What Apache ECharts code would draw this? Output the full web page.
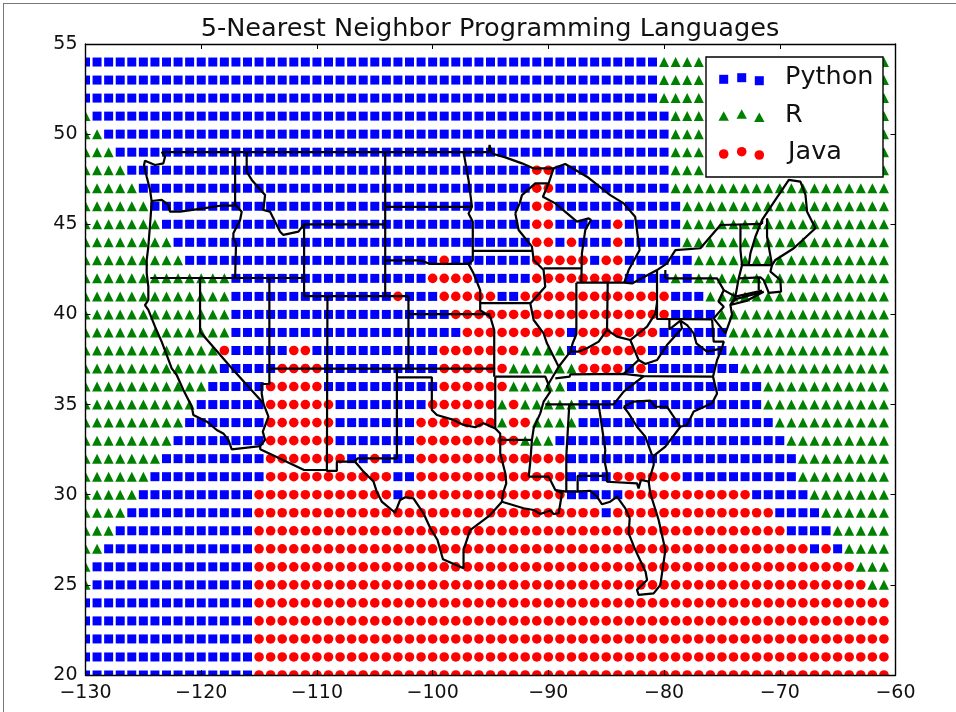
<!DOCTYPE html>
<html>
<head>
<meta charset="utf-8">
<style>
html,body{margin:0;padding:0;background:#fff;width:956px;height:712px;overflow:hidden}
#frame{position:absolute;left:3px;top:3px;right:0;bottom:0;border-left:1px solid #777;border-top:1px solid #777}
#chart{position:absolute;left:0;top:0;width:956px;height:712px}
</style>
<script src="https://cdn.jsdelivr.net/npm/echarts@6/dist/echarts.min.js"></script>
</head>
<body>
<div id="frame"></div>
<div id="chart"></div>
<script>
const titleText = '5-Nearest Neighbor Programming Languages';
const languages = ['Python', 'R', 'Java'];
const firstLongitude = -130;
const xTicks = [-130, -120, -110, -100, -90, -80, -70, -60];
const yTicks = [20, 25, 30, 35, 40, 45, 50, 55];

// Predicted language on the 1-degree grid: runs from longitude -130 eastward (P/R/J + run length)
const row54 = 'P50 R20';
const row53 = 'P50 R20';
const row52 = 'P50 R20';
const row51 = 'R1 P50 R19';
const row50 = 'R2 P49 R19';
const row49 = 'R3 P48 R19';
const row48 = 'R4 P35 J2 P10 R19';
const row47 = 'R5 P34 J2 P10 R19';
const row46 = 'R6 P33 J2 P11 R18';
const row45 = 'R7 P32 J2 P5 J1 P5 R18';
const row44 = 'R8 P31 J2 P1 J1 P3 J1 P5 R18';
const row43 = 'R9 P22 J1 P7 J5 P1 J2 P6 R17';
const row42 = 'R13 P17 J4 P5 J8 P4 R1 P1 R17';
const row41 = 'R13 P14 J1 P3 J5 P2 J13 P3 R16';
const row40 = 'R13 P19 J19 P4 R15';
const row39 = 'R13 P20 J9 P1 J7 P6 R14';
const row38 = 'R12 J1 P5 J2 P11 J7 R4 P1 J6 P7 R14';
const row37 = 'R12 P5 J4 P10 J6 R6 J4 P1 J1 P8 R13';
const row36 = 'R11 P5 J5 P10 J6 R5 P17 R11';
const row35 = 'R10 P6 J6 P8 J6 R1 J1 R5 P16 R11';
const row34 = 'R9 P7 J6 P7 J7 R1 J2 R4 P17 R10';
const row33 = 'R8 P8 J6 P7 J9 R3 P20 R9';
const row32 = 'R7 P9 J7 P2 J1 P3 J13 P20 R8';
const row31 = 'R6 P10 J11 P2 J13 P4 J6 P10 R8';
const row30 = 'R5 P10 J12 P1 J14 P5 J11 P5 R7';
const row29 = 'R4 P11 J30 P1 J14 P4 R6';
const row28 = 'R3 P12 J46 P4 R5';
const row27 = 'R2 P13 J48 P1 J1 P1 R4';
const row26 = 'R1 P14 J52 R3';
const row25 = 'R1 P14 J53 R2';
const row24 = 'P15 J55';
const row23 = 'P15 J55';
const row22 = 'P15 J55';
const row21 = 'P15 J55';
const row20 = 'P15 J55';
const gridRows = {54:row54,53:row53,52:row52,51:row51,50:row50,49:row49,48:row48,47:row47,46:row46,45:row45,44:row44,43:row43,42:row42,41:row41,40:row40,39:row39,38:row38,37:row37,36:row36,35:row35,34:row34,33:row33,32:row32,31:row31,30:row30,29:row29,28:row28,27:row27,26:row26,25:row25,24:row24,23:row23,22:row22,21:row21,20:row20};

// State borders as [longitude, latitude] polylines
const pacificCoast = [[-123.41,49.01],[-123.13,48.75],[-123.27,48.38],[-123.99,48.29],[-124.86,48.53],[-124.94,48.29],[-124.71,47.64],[-124.42,46.9],[-124.28,46.26],[-124.37,45.42],[-124.57,43.76],[-124.71,43.02],[-124.71,42.28],[-124.57,41.54],[-124.57,40.8],[-124.86,40.52],[-124.57,40.25],[-123.99,39.32],[-123.42,38.49],[-122.93,37.66],[-122.55,37.01],[-122.12,36.64],[-121.54,35.81],[-120.82,34.89],[-120.68,34.42],[-119.5,34.05],[-118.66,33.59],[-118.09,33.4],[-117.65,33.04],[-117.36,32.52],[-114.9,32.7]];
const canadaLine = [[-123.41,49.0],[-95.15,49.0],[-95.08,49.4],[-94.88,48.93],[-93.72,48.71],[-92.28,48.38],[-91.27,48.1],[-89.55,48.1],[-88.54,48.34],[-86.66,47.64],[-84.65,46.62],[-83.49,46.16],[-82.5,45.42],[-82.11,43.57],[-83.06,42.46],[-83.44,41.76],[-82.77,41.72],[-80.61,42.46],[-79.75,42.83],[-79.02,43.57],[-76.86,43.67],[-75.13,44.96],[-71.53,45.02]];
const maineOutline = [[-71.53,45.02],[-71.53,45.24],[-70.38,46.35],[-69.22,47.46],[-68.22,47.37],[-67.78,46.63],[-67.64,45.7],[-66.92,44.78],[-68.79,43.67],[-70.38,43.02],[-70.67,42.74]];
const washingtonOregon = [[-124.28,46.29],[-123.41,46.35],[-122.84,46.07],[-122.7,45.7],[-121.83,45.7],[-119.81,45.88],[-118.37,46.03],[-116.99,46.03]];
const idahoWest = [[-117.07,49.0],[-117.07,46.1],[-116.5,45.7],[-116.64,45.24],[-117.22,44.5],[-117.22,44.2],[-116.99,43.94],[-117.07,42.02]];
const idahoMontana = [[-116.07,49.0],[-116.07,47.92],[-115.63,47.46],[-114.48,46.63],[-114.63,45.79],[-114.05,45.7],[-113.18,44.59],[-112.9,44.41],[-111.6,44.59],[-111.11,45.0]];
const lat42Line = [[-124.4,42.02],[-111.11,42.02]];
const wyoming = [[-111.11,42.02],[-111.11,45.0],[-104.1,45.0]];
const wyomingSouth = [[-111.11,42.02],[-111.11,41.02],[-102.09,41.02]];
const montanaEast = [[-104.1,49.0],[-104.1,41.02]];
const dakotas = [[-104.1,45.97],[-96.6,45.97]];
const nebraskaNorth = [[-104.1,43.0],[-101.06,43.0],[-100.2,42.8],[-96.9,42.8],[-96.47,42.28],[-95.89,41.35],[-95.89,40.24],[-95.02,39.87],[-94.68,39.13],[-94.68,36.55]];
const minnesotaWest = [[-97.33,49.0],[-96.9,47.46],[-96.6,45.97],[-96.9,45.6],[-96.53,45.14],[-96.53,43.0],[-96.9,42.8]];
const iowaNorth = [[-96.55,43.53],[-91.42,43.53]];
const iowaSouth = [[-95.89,40.63],[-91.56,40.63]];
const kansasNorth = [[-102.09,40.02],[-95.02,40.02]];
const coloradoEast = [[-102.09,41.02],[-102.09,36.99]];
const coloradoWest = [[-109.09,41.02],[-109.14,31.32],[-108.28,31.32],[-108.28,31.83],[-106.7,31.83]];
const californiaNevada = [[-120.1,42.02],[-120.1,39.04],[-117.36,37.01],[-114.63,35.07],[-114.19,34.33],[-114.68,33.5],[-114.48,33.04],[-114.9,32.7],[-114.9,32.52],[-111.11,31.37],[-109.14,31.37]];
const nevadaUtah = [[-114.11,42.02],[-114.11,36.14],[-114.77,36.14],[-114.77,35.6],[-114.63,35.07]];
const lat37Line = [[-114.11,36.99],[-94.68,36.99]];
const panhandle = [[-103.09,36.99],[-103.09,32.02],[-106.5,32.02],[-106.7,31.83]];
const texasNorth = [[-103.09,36.51],[-100.07,36.51],[-100.07,34.7],[-99.63,34.42],[-98.19,34.15],[-97.33,33.87],[-96.32,33.74],[-95.6,33.96],[-94.59,33.68],[-94.16,33.4],[-94.16,32.3],[-93.72,31.19],[-93.64,30.63],[-93.92,30.08],[-94.01,29.61]];
const arkansasWest = [[-94.59,36.55],[-94.59,33.68]];
const arkansasNorth = [[-94.59,36.55],[-90.26,36.55],[-89.98,36.09]];
const louisianaNorth = [[-94.16,33.04],[-91.42,33.04]];
const rioGrande = [[-106.7,31.83],[-105.98,31.28],[-105.11,30.73],[-104.83,30.17],[-104.4,29.62],[-103.24,29.0],[-102.81,29.71],[-102.37,29.86],[-101.66,29.8],[-100.79,28.97],[-100.2,28.14],[-99.58,27.49],[-99.11,26.42],[-97.33,25.92],[-97.33,26.94],[-96.76,28.04],[-95.03,28.87],[-94.01,29.61],[-92.14,29.25],[-91.27,29.15],[-90.7,28.93],[-89.83,29.12],[-89.54,28.93],[-89.11,28.97],[-88.82,30.08],[-89.4,30.26],[-89.83,30.82],[-89.98,31.0],[-91.7,31.0]];
const gulfFlorida = [[-89.4,30.26],[-88.45,30.17],[-87.47,30.17],[-86.38,30.22],[-85.8,29.89],[-85.37,29.47],[-84.65,29.61],[-84.07,29.89],[-83.35,29.24],[-82.97,28.69],[-83.06,27.86],[-82.48,26.93],[-81.6,25.73],[-81.47,25.27],[-82.34,24.72],[-82.2,24.44],[-80.9,24.53],[-80.32,25.0],[-79.89,26.93],[-80.47,28.6],[-81.19,30.08],[-81.33,30.72],[-80.9,31.65],[-80.9,32.15],[-79.89,32.67],[-78.59,33.77],[-78.02,33.87],[-77.44,34.61],[-75.86,35.07],[-75.42,35.62],[-75.77,36.55],[-75.42,37.47],[-75.0,38.12],[-74.84,38.49],[-75.71,38.49],[-75.85,39.73]];
const alabamaSouth = [[-87.47,30.17],[-87.47,31.04],[-85.08,31.04]];
const floridaNorth = [[-85.08,32.48],[-85.16,31.93],[-84.93,31.19],[-84.93,30.72],[-82.34,30.63],[-82.2,30.35],[-82.0,30.82],[-81.24,30.72]];
const alabamaGeorgia = [[-85.65,34.98],[-85.08,32.48]];
const mississippiAlabama = [[-88.19,35.01],[-88.45,32.11],[-88.45,30.17]];
const tennesseeSouth = [[-90.26,35.01],[-84.36,35.01],[-83.49,35.72],[-81.76,36.58]];
const carolinas = [[-83.49,34.88],[-82.63,35.16],[-81.19,35.22],[-80.75,34.88],[-79.75,34.88],[-78.59,33.77]];
const georgiaCarolina = [[-83.49,34.88],[-83.06,34.51],[-82.34,33.77],[-81.62,33.22],[-81.04,32.2]];
const kentuckySouth = [[-89.4,36.45],[-88.16,36.55],[-88.1,36.68],[-83.49,36.7],[-81.76,36.58],[-75.86,36.55]];
const mississippiRiver = [[-92.86,45.61],[-92.57,44.68],[-91.42,43.76],[-91.27,43.02],[-90.41,42.46],[-90.27,41.54],[-91.56,40.61],[-91.27,39.69],[-90.41,38.95],[-90.12,38.4],[-89.26,37.29],[-89.11,37.1],[-90.12,36.0],[-89.83,35.72],[-90.41,35.16],[-90.7,34.51],[-91.27,33.68],[-91.42,33.04],[-91.56,31.83],[-91.7,31.0]];
const minnesotaWisconsin = [[-89.55,48.1],[-89.98,47.27],[-91.13,47.27],[-92.28,46.62],[-92.48,46.16],[-92.86,45.61]];
const upperMichigan = [[-89.98,47.27],[-90.47,46.53],[-89.4,46.16],[-87.53,45.15],[-86.52,45.33],[-86.32,45.24],[-86.81,44.68],[-87.1,43.39],[-87.15,41.76]];
const illinoisNorth = [[-90.41,42.55],[-87.15,42.55]];
const michiganSouth = [[-87.58,41.76],[-83.44,41.76]];
const illinoisIndiana = [[-87.58,41.76],[-87.58,38.9],[-87.9,38.4],[-88.1,37.94]];
const indianaOhio = [[-84.87,41.76],[-84.93,39.14]];
const ohioRiver = [[-89.11,37.1],[-88.1,37.94],[-87.38,37.94],[-86.66,38.12],[-85.65,38.49],[-84.93,39.14],[-84.07,38.77],[-82.92,38.58],[-82.2,38.95],[-81.47,39.32],[-80.75,40.06],[-80.61,40.62]];
const kentuckyEast = [[-82.92,38.58],[-82.2,37.47],[-83.49,36.7]];
const westVirginia = [[-82.2,37.47],[-81.62,37.25],[-80.61,37.47],[-79.75,38.3],[-78.45,39.23],[-78.59,39.65],[-79.54,39.17],[-79.54,39.73]];
const potomac = [[-78.59,39.65],[-78.01,39.41],[-77.44,38.95],[-77.21,38.4],[-76.29,37.94],[-75.0,38.12]];
const pennsylvaniaWest = [[-80.61,42.46],[-80.61,39.75],[-75.85,39.73]];
const newYorkSouth = [[-79.89,42.46],[-79.89,42.0],[-75.42,42.0],[-74.84,41.35],[-73.84,40.99]];
const newJersey = [[-74.84,41.35],[-75.28,40.71],[-74.84,40.43],[-75.71,39.78],[-74.7,38.95],[-74.12,39.97],[-74.27,40.52],[-73.84,40.99]];
const vermontWest = [[-73.4,44.98],[-73.4,43.57],[-73.26,42.74],[-73.55,42.0],[-73.84,40.99]];
const vermontNewHampshire = [[-71.53,45.24],[-72.11,44.31],[-72.54,43.39],[-72.68,42.74]];
const newHampshireMaine = [[-71.1,45.33],[-71.1,44.3],[-70.67,42.74]];
const massachusettsNorth = [[-73.26,42.74],[-70.67,42.74],[-70.81,42.37],[-69.95,41.91],[-69.89,41.26],[-70.95,41.2],[-71.39,41.9],[-71.67,42.06],[-73.55,42.0]];
const connecticutEast = [[-71.82,42.06],[-71.82,41.35]];
const connecticutSouth = [[-73.84,40.99],[-71.53,41.32]];
const longIsland = [[-74.27,40.52],[-73.84,40.85],[-71.39,41.26],[-72.9,40.75],[-74.27,40.52]];
const borders = [pacificCoast,canadaLine,maineOutline,washingtonOregon,idahoWest,idahoMontana,lat42Line,wyoming,wyomingSouth,montanaEast,dakotas,nebraskaNorth,minnesotaWest,iowaNorth,iowaSouth,kansasNorth,coloradoEast,coloradoWest,californiaNevada,nevadaUtah,lat37Line,panhandle,texasNorth,arkansasWest,arkansasNorth,louisianaNorth,rioGrande,gulfFlorida,alabamaSouth,floridaNorth,alabamaGeorgia,mississippiAlabama,tennesseeSouth,carolinas,georgiaCarolina,kentuckySouth,mississippiRiver,minnesotaWisconsin,upperMichigan,illinoisNorth,michiganSouth,illinoisIndiana,indianaOhio,ohioRiver,kentuckyEast,westVirginia,potomac,pennsylvaniaWest,newYorkSouth,newJersey,vermontWest,vermontNewHampshire,newHampshireMaine,massachusettsNorth,connecticutEast,connecticutSouth,longIsland];

const colors = {Python:'#0000ff', R:'#008000', Java:'#ff0000'};
const symbols = {Python:'rect', R:'triangle', Java:'circle'};
const sizes = {Python:9, R:10, Java:9.6};
const codeToLanguage = {P:'Python', R:'R', J:'Java'};

const points = {Python:[], R:[], Java:[]};
Object.keys(gridRows).forEach(function (lat) {
  let lon = firstLongitude;
  gridRows[lat].split(' ').forEach(function (run) {
    const lang = codeToLanguage[run[0]];
    const n = parseInt(run.slice(1), 10);
    for (let k = 0; k < n; k++) { points[lang].push([lon, Number(lat)]); lon++; }
  });
});

const fontFamily = '"DejaVu Sans", sans-serif';
function axisBase() {
  return {
    type: 'value', splitLine: {show: false}, z: 6,
    axisLine: {show: true, onZero: false, lineStyle: {color: '#000', width: 1.4}},
    axisTick: {show: true, inside: true, length: 5, lineStyle: {color: '#000', width: 1}}
  };
}
function fmt(v) { return String(v).replace('-', '\u2212'); }
const labelStyle = {show: true, color: '#111', fontSize: 19, fontFamily: fontFamily, formatter: fmt};

const grid = {left: 85.5, top: 44, width: 810, height: 631, containLabel: false};
const xA = {min: xTicks[0], max: xTicks[xTicks.length - 1], interval: 10};
const yA = {min: yTicks[0], max: yTicks[yTicks.length - 1], interval: 5};

const series = languages.map(function (lang) {
  return {
    name: lang, type: 'scatter', data: points[lang], symbol: symbols[lang], symbolSize: sizes[lang],
    itemStyle: {color: colors[lang], opacity: 1}, clip: true, silent: true, z: 2
  };
}).concat(borders.map(function (b) {
  return {
    type: 'line', data: b, showSymbol: false, symbol: 'none', clip: true, silent: true, z: 3,
    lineStyle: {color: '#000', width: 2.2}, smooth: false
  };
}));

function legendRow(lang, ys, label, labelX, cy) {
  const xs = [723.7, 741.7, 759.3];
  const els = xs.map(function (x, i) {
    const y = ys[i];
    const fill = {fill: colors[lang]};
    if (lang === 'Python') return {type: 'rect', shape: {x: x - 4.5, y: y - 4.5, width: 9, height: 9}, style: fill, z: 11};
    if (lang === 'Java') return {type: 'circle', shape: {cx: x, cy: y, r: 4.8}, style: fill, z: 11};
    return {type: 'polygon', shape: {points: [[x, y - 5.5], [x + 5.2, y + 4], [x - 5.2, y + 4]]}, style: fill, z: 11};
  });
  els.push({type: 'text', x: labelX, y: cy, style: {text: label, fill: '#111', font: '25.5px ' + fontFamily, textVerticalAlign: 'middle', textBaseline: 'middle'}, z: 11});
  return els;
}

// White strips hide the part of the edge markers that falls outside the plot frame
const edgeMasks = [
  {type: 'rect', shape: {x: 76, y: 44, width: 9.5, height: 640}, style: {fill: '#fff'}, z: 5},
  {type: 'rect', shape: {x: 76, y: 675, width: 830, height: 9}, style: {fill: '#fff'}, z: 5}
];

const chart = echarts.init(document.getElementById('chart'), null, {renderer: 'canvas'});
chart.setOption({
  animation: false,
  backgroundColor: 'transparent',
  title: {text: titleText, left: 485, top: 11, textAlign: 'center', textStyle: {fontFamily: fontFamily, fontSize: 25.6, fontWeight: 'normal', color: '#111'}},
  grid: grid,
  xAxis: [
    Object.assign(axisBase(), xA, {position: 'bottom', axisLabel: Object.assign({margin: 9}, labelStyle)}),
    Object.assign(axisBase(), xA, {position: 'top', axisLabel: {show: false}})
  ],
  yAxis: [
    Object.assign(axisBase(), yA, {position: 'left', axisLabel: Object.assign({margin: 8}, labelStyle)}),
    Object.assign(axisBase(), yA, {position: 'right', axisLabel: {show: false}})
  ],
  series: series,
  graphic: edgeMasks.concat([{type: 'rect', shape: {x: 706, y: 57, width: 177, height: 120}, style: {fill: '#fff', stroke: '#000', lineWidth: 1.4}, z: 10}])
    .concat(legendRow('Python', [79.3, 77.7, 80.7], 'Python', 785, 77))
    .concat(legendRow('R', [116.7, 114.7, 118], 'R', 785, 115))
    .concat(legendRow('Java', [154, 151.7, 155], 'Java', 788, 152))
});
</script>
</body>
</html>
